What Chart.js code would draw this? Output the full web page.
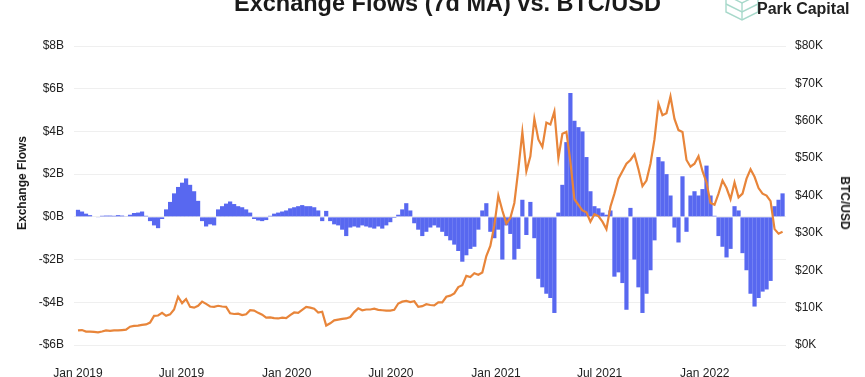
<!DOCTYPE html>
<html><head><meta charset="utf-8">
<script src="https://cdn.jsdelivr.net/npm/chart.js@4"></script>
<style>
html,body{margin:0;padding:0;background:#fff;overflow:hidden}
#wrap{position:relative;width:865px;height:377px;overflow:hidden}
canvas{position:absolute;left:0;top:0}
.t{position:absolute;font-family:"Liberation Sans",Arial,sans-serif;color:#1a1a1a;white-space:nowrap}
</style></head><body>
<div id="wrap">
<canvas id="c" width="865" height="377"></canvas>
<div class="t" style="left:0;width:895px;text-align:center;top:-8px;font-size:23.5px;font-weight:bold;line-height:23.5px">Exchange Flows (7d MA) vs. BTC/USD</div>
<svg style="position:absolute;left:724px;top:-14px" width="38" height="36" viewBox="0 0 38 36">
<g fill="none" stroke="#a8d9cb" stroke-width="1.4">
<polygon points="18,1 34,9 34,26 18,34 2,26 2,9"/>
<polyline points="2,9 18,17 34,9"/><line x1="18" y1="17" x2="18" y2="34"/>
<polyline points="2,18 18,26 34,18"/>
</g></svg>
<div class="t" style="left:757px;top:-15px;font-size:16px;font-weight:bold;line-height:16px;color:#222">Decentral<br>Park Capital</div>
<div class="t" style="left:22px;top:183px;font-size:12px;font-weight:bold;transform:translate(-50%,-50%) rotate(-90deg)">Exchange Flows</div>
<div class="t" style="left:845px;top:203px;font-size:12px;font-weight:bold;transform:translate(-50%,-50%) rotate(90deg)">BTC/USD</div>
</div>
<script>
// weekly samples starting 2019-01-01 (step 7 days)
const stepDays = 7;
const flows = [
 0.33,0.25,0.15,0.08,0.0,-0.03,0.05,0.06,0.06,0.05,
 0.08,0.06,0.03,0.1,0.18,0.2,0.25,0.05,-0.2,-0.4,
 -0.53,-0.1,0.35,0.7,1.1,1.4,1.6,1.8,1.5,1.2,
 0.75,-0.2,-0.45,-0.35,-0.4,0.35,0.5,0.62,0.72,0.6,
 0.5,0.45,0.35,0.2,-0.1,-0.17,-0.2,-0.15,0.05,0.15,
 0.2,0.25,0.3,0.4,0.45,0.5,0.55,0.5,0.5,0.45,
 0.3,-0.2,0.28,-0.2,-0.35,-0.4,-0.6,-0.9,-0.5,-0.45,
 -0.5,-0.4,-0.45,-0.5,-0.55,-0.45,-0.55,-0.4,-0.25,-0.05,
 0.1,0.35,0.64,0.3,-0.3,-0.6,-0.9,-0.7,-0.5,-0.4,
 -0.5,-0.7,-0.9,-1.1,-1.3,-1.6,-2.1,-1.8,-1.5,-1.4,
 -0.6,0.3,0.64,-0.7,-1.0,-0.6,-2.0,-0.4,-0.8,-2.0,
 -1.5,0.8,-0.85,0.7,-1.0,-2.9,-3.3,-3.6,-3.8,-4.5,
 0.2,1.5,3.5,5.8,4.5,4.2,4.0,2.8,1.2,0.5,
 0.4,0.2,0.1,0.3,-2.8,-2.6,-3.1,-4.35,0.42,-2.0,
 -3.3,-4.5,-3.6,-2.5,-1.1,2.8,2.6,2.0,1.0,-0.5,
 -1.2,1.9,-0.7,1.0,1.2,1.0,1.3,2.4,1.0,0.05,
 -0.9,-1.4,-1.9,-1.5,0.5,0.3,-1.7,-2.5,-3.6,-4.2,
 -3.8,-3.5,-3.4,-3.0,0.5,0.8,1.1
];
const btc = [
 3.9,4.0,3.6,3.6,3.5,3.4,3.6,3.9,3.8,3.9,
 3.9,4.0,4.1,4.9,5.1,5.2,5.4,5.5,6.0,7.8,
 7.9,8.6,7.8,8.2,9.5,12.9,11.2,12.3,10.2,10.0,
 10.5,11.6,11.0,10.3,10.2,10.5,10.3,10.2,8.5,8.3,
 8.4,8.0,8.2,9.3,9.2,8.6,8.1,7.3,7.4,7.2,
 7.1,7.3,7.2,8.0,8.7,8.6,9.4,10.2,10.0,9.7,
 8.7,8.9,5.2,5.8,6.6,6.8,7.0,7.1,7.5,8.8,
 9.8,9.3,9.5,9.5,9.7,9.4,9.3,9.2,9.2,9.4,
 11.1,11.6,11.8,11.5,11.7,10.2,10.4,10.9,10.7,10.6,
 11.4,11.4,12.9,13.2,13.8,15.5,16.0,18.5,18.2,19.2,
 18.8,19.4,23.8,26.5,32.0,40.0,36.0,32.5,34.0,38.0,
 47.0,57.0,46.5,50.5,60.5,55.0,53.0,59.5,59.0,62.5,
 50.0,56.5,57.0,49.0,39.0,37.5,36.0,35.5,33.0,35.0,
 34.5,33.0,31.0,37.0,40.5,44.5,46.5,48.5,49.5,51.0,
 47.0,42.5,44.0,48.5,55.0,64.5,61.5,62.0,66.5,60.5,
 57.5,57.0,49.5,47.7,48.5,50.5,46.5,43.5,38.0,37.5,
 40.5,44.0,42.0,39.0,43.5,39.5,40.5,44.5,47.0,45.0,
 42.0,40.5,40.0,38.5,31.0,29.8,30.3
];
const tickDays = [0,181,365,547,731,912,1096];
const tickLabels = ['Jan 2019','Jul 2019','Jan 2020','Jul 2020','Jan 2021','Jul 2021','Jan 2022'];

const FONT = '"Liberation Sans", Arial, sans-serif';
new Chart(document.getElementById('c'), {
  type: 'bar',
  data: {
    datasets: [
      { type:'line', label:'BTC/USD', data: btc.map((v,i)=>({x:i*stepDays,y:v})), yAxisID:'yBtc',
        borderColor:'#e8853a', borderWidth:2.2, pointRadius:0, tension:0, order:1 },
      { type:'bar', label:'Exchange Flows', data: flows.map((v,i)=>({x:i*stepDays,y:v})), yAxisID:'yFlow',
        backgroundColor:'#5868f0', borderWidth:0, barPercentage:1.05, categoryPercentage:1, order:2 }
    ]
  },
  options: {
    responsive:false, animation:false, devicePixelRatio:1,
    layout:{ padding:{ top:46, left:0, right:0, bottom:0 } },
    plugins:{ legend:{display:false}, tooltip:{enabled:false}, title:{display:false} },
    scales:{
      x:{ type:'linear', position:'bottom', min:-7, max:1238, offset:false,
        grid:{display:false}, border:{display:false},
        afterBuildTicks:(s)=>{ s.ticks = tickDays.map(v=>({value:v})); },
        afterFit:(s)=>{ s.height = 32; },
        ticks:{ autoSkip:false, maxRotation:0, padding:13, color:'#222', font:{family:FONT,size:12},
          callback:(v)=>{ const k = tickDays.indexOf(v); return k>=0 ? tickLabels[k] : ''; } } },
      yFlow:{ type:'linear', position:'left', min:-6, max:8,
        grid:{ color:'#efefef', drawTicks:false }, border:{display:false},
        afterFit:(s)=>{ s.width = 74; },
        ticks:{ stepSize:2, padding:10, color:'#222', font:{family:FONT,size:12},
          callback:(v)=> (v<0?'-$':'$') + Math.abs(v) + 'B' } },
      yBtc:{ type:'linear', position:'right', min:0, max:80,
        grid:{ drawOnChartArea:false, drawTicks:false }, border:{display:false},
        afterFit:(s)=>{ s.width = 79; },
        ticks:{ stepSize:10, padding:9, color:'#222', font:{family:FONT,size:12},
          callback:(v)=> '$' + v + 'K' } }
    }
  }
});
</script>
</body></html>
